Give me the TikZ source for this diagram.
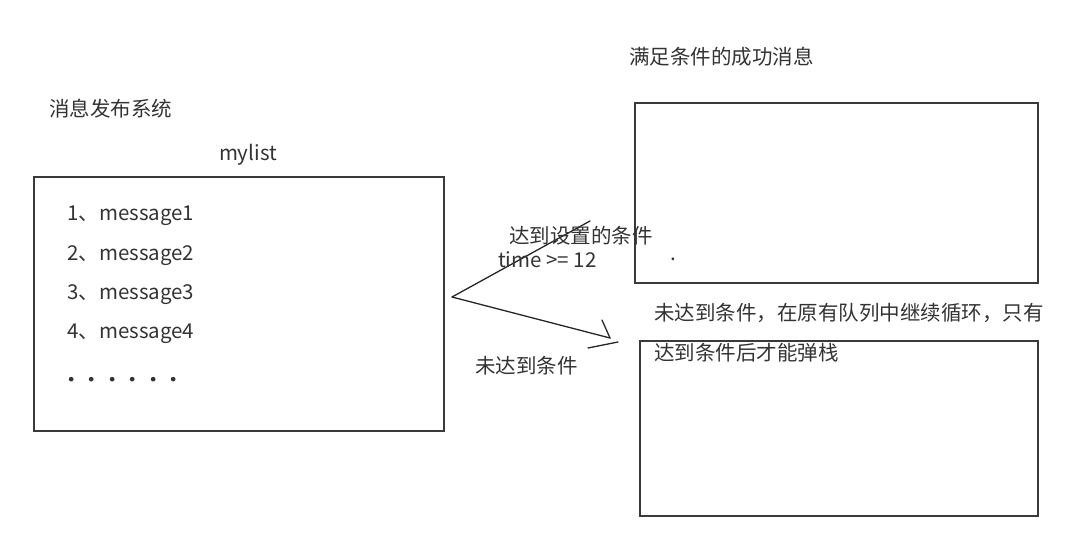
\documentclass[tikz,border=0pt]{standalone}
\usepackage{fontspec}
\setmainfont{Noto Sans CJK SC}
\definecolor{ink}{HTML}{333333}
\definecolor{edge}{HTML}{3A3A3A}
\tikzset{
  x=1pt,y=-1pt,
  txt/.style={inner sep=0pt,text=ink,font=\fontsize{20.5}{24}\selectfont,anchor=west},
  box/.style={draw=edge,line width=1.6pt,inner sep=0pt,anchor=north west},
  link/.style={draw=black!85,line width=1.3pt,line cap=round}
}
\begin{document}
\begin{tikzpicture}
\useasboundingbox (0,0) rectangle (1068,539);
% boxes
\node[box,minimum width=410pt,minimum height=254pt] (list) at (33,176) {};
\node[box,minimum width=403pt,minimum height=180pt] (ok) at (634,102) {};
\node[box,minimum width=398pt,minimum height=175pt] (wait) at (639,340) {};
% titles
\node[txt] (sys) at (49,109) {消息发布系统};
\node[txt,anchor=center] (name) at (248,155) {mylist};
\node[txt] (oktitle) at (629,57) {满足条件的成功消息};
% list items
\node[txt] (m1) at (67,216) {1、message1};
\node[txt] (m2) at (67,256) {2、message2};
\node[txt] (m3) at (67,295) {3、message3};
\node[txt] (m4) at (67,334) {4、message4};
\node[txt] (dots) at (65,380) {\textbf{．．．．．．}};
% connectors
\coordinate (fork) at (452,297);
\coordinate (upend) at (590,221);
\coordinate (downend) at (610,338);
\coordinate (barbA) at (602,320);
\coordinate (barbB) at (588,348);
\coordinate (barbC) at (618,342);
\draw[link] (fork) -- (upend);
\draw[link] (fork) -- (downend);
\draw[link] (barbA) -- (downend);
\draw[link] (barbB) -- (barbC);
% labels
\node[txt] (cond) at (509,236) {达到设置的条件};
\node[txt] (time) at (498,260) {time >= 12};
\node[txt] (dot) at (670,259) {.};
\node[txt] (notc) at (475,366) {未达到条件};
\node[txt] (note1) at (654,313) {未达到条件，在原有队列中继续循环，只有};
\node[txt] (note2) at (654,353) {达到条件后才能弹栈};
\end{tikzpicture}
\end{document}
